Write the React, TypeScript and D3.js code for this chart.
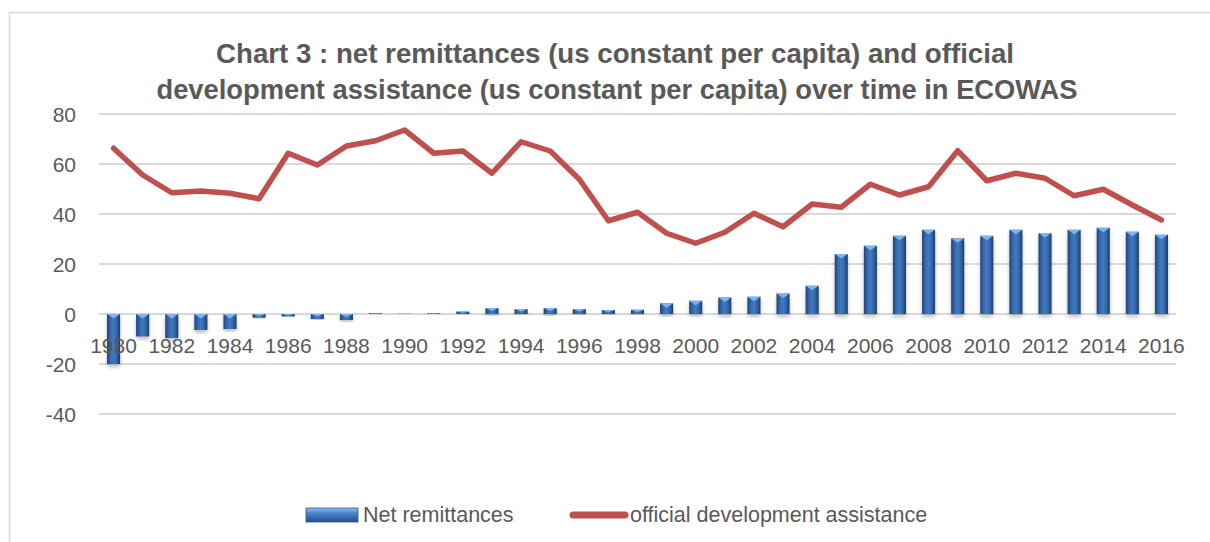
import React, {useEffect, useRef} from "react";
import * as d3 from "d3";

const years: number[] = [1980, 1981, 1982, 1983, 1984, 1985, 1986, 1987, 1988, 1989,
  1990, 1991, 1992, 1993, 1994, 1995, 1996, 1997, 1998, 1999,
  2000, 2001, 2002, 2003, 2004, 2005, 2006, 2007, 2008, 2009,
  2010, 2011, 2012, 2013, 2014, 2015, 2016];

// net remittances, us constant per capita
const remittances: number[] = [-20, -9, -9.6, -6.4, -6, -1.5, -1, -2, -2.4, 0.3,
  0.1, 0.3, 1, 2.4, 2, 2.4, 2, 1.6, 1.7, 4.3,
  5.3, 6.6, 6.9, 8.2, 11.3, 24, 27.3, 31.3, 33.7, 30.3,
  31.3, 33.7, 32.4, 33.7, 34.5, 32.9, 31.7];

// official development assistance, us constant per capita
const oda: number[] = [66.3, 55.6, 48.5, 49.2, 48.3, 46.1, 64.3, 59.6, 67.2, 69.3,
  73.6, 64.3, 65.2, 56.3, 68.9, 65.2, 53.9, 37.3, 40.7, 32.3,
  28.3, 32.7, 40.3, 34.9, 44, 42.7, 51.9, 47.6, 50.9, 65.3,
  53.3, 56.3, 54.3, 47.3, 49.9, 43.6, 37.6];

const yTicks: number[] = [-40, -20, 0, 20, 40, 60, 80];
const xTickLabels: number[] = [1980, 1982, 1984, 1986, 1988, 1990, 1992, 1994, 1996, 1998,
  2000, 2002, 2004, 2006, 2008, 2010, 2012, 2014, 2016];

const titleLines: string[] = [
  "Chart 3 : net remittances (us constant per capita) and official",
  "development assistance (us constant per capita) over time in ECOWAS",
];
const legendBars: string = "Net remittances";
const legendLine: string = "official development assistance";

const ColorLine: string = "#c0504d";
const ColorGrid: string = "#d9d9d9";
const ColorText: string = "#595959";
const FontFamily: string = "'Liberation Sans', Arial, sans-serif";

export default function App(): React.ReactElement {
  const svgRef = useRef<SVGSVGElement>(null);

  const width = 1210;
  const height = 542;
  const plot = {left: 99, right: 1176, top: 114, bottom: 414};

  useEffect(() => {
    if (svgRef.current === null) return;
    const svg = d3.select(svgRef.current);
    svg.selectAll("*").remove();

    const x = d3.scaleBand<number>()
      .domain(years)
      .range([plot.left, plot.right])
      .paddingInner(0.55)
      .paddingOuter(0.275);
    const y = d3.scaleLinear().domain([-40, 80]).range([plot.bottom, plot.top]);
    const cx = (yr: number): number => (x(yr) as number) + x.bandwidth() / 2;

    const defs = svg.append("defs");
    const grad = defs.append("linearGradient")
      .attr("id", "barGrad").attr("x1", "0").attr("x2", "1").attr("y1", "0").attr("y2", "0");
    grad.append("stop").attr("offset", "0%").attr("stop-color", "#1d4277");
    grad.append("stop").attr("offset", "25%").attr("stop-color", "#3469ad");
    grad.append("stop").attr("offset", "50%").attr("stop-color", "#4479c0");
    grad.append("stop").attr("offset", "75%").attr("stop-color", "#3166a9");
    grad.append("stop").attr("offset", "100%").attr("stop-color", "#1a3b6b");
    const gradH = defs.append("linearGradient")
      .attr("id", "legGrad").attr("x1", "0").attr("x2", "0").attr("y1", "0").attr("y2", "1");
    gradH.append("stop").attr("offset", "0%").attr("stop-color", "#8ec0f2");
    gradH.append("stop").attr("offset", "35%").attr("stop-color", "#4f86cc");
    gradH.append("stop").attr("offset", "100%").attr("stop-color", "#23508e");
    const shadow = defs.append("filter").attr("id", "barShadow")
      .attr("x", "-50%").attr("y", "-20%").attr("width", "200%").attr("height", "140%");
    shadow.append("feGaussianBlur").attr("in", "SourceAlpha").attr("stdDeviation", 2);
    shadow.append("feOffset").attr("dx", 0).attr("dy", 3).attr("result", "blur");
    shadow.append("feComponentTransfer").append("feFuncA").attr("type", "linear").attr("slope", 0.25);
    const merge = shadow.append("feMerge");
    merge.append("feMergeNode");
    merge.append("feMergeNode").attr("in", "SourceGraphic");

    // chart frame
    svg.append("rect")
      .attr("x", 9.5).attr("y", 12.5).attr("width", 1300).attr("height", 600)
      .attr("fill", "none").attr("stroke", ColorGrid).attr("stroke-width", 1.5);

    // title
    const title = svg.append("g").attr("font-family", FontFamily).attr("font-weight", "bold")
      .attr("fill", ColorText).attr("font-size", 27).attr("text-anchor", "middle");
    title.append("text").attr("x", 615).attr("y", 63)
      .attr("textLength", 798).attr("lengthAdjust", "spacingAndGlyphs").text(titleLines[0]);
    title.append("text").attr("x", 617).attr("y", 99)
      .attr("textLength", 921).attr("lengthAdjust", "spacingAndGlyphs").text(titleLines[1]);

    // gridlines
    svg.append("g").selectAll("line").data(yTicks).join("line")
      .attr("x1", plot.left).attr("x2", plot.right)
      .attr("y1", (d) => y(d)).attr("y2", (d) => y(d))
      .attr("stroke", ColorGrid).attr("stroke-width", 2);

    // y axis
    const yAxis = svg.append("g").attr("transform", `translate(76,0)`);
    yAxis.call(d3.axisLeft(y).tickValues(yTicks).tickSize(0).tickPadding(0)
      .tickFormat((d) => String(d)));
    yAxis.select(".domain").remove();
    yAxis.selectAll("text")
      .attr("font-family", FontFamily).attr("font-size", 21).attr("fill", ColorText)
      .attr("dy", "0.35em");

    // bars
    const bars = svg.append("g");
    const rows = years.map((yr, i) => ({yr, v: remittances[i]}));
    bars.selectAll(".barIn").data(rows).join("rect")
      .attr("class", "barIn")
      .attr("x", (d) => x(d.yr) as number)
      .attr("y", (d) => Math.min(y(d.v), y(0)))
      .attr("width", x.bandwidth())
      .attr("height", (d) => Math.abs(y(d.v) - y(0)))
      .attr("fill", "url(#barGrad)")
      .attr("filter", "url(#barShadow)");
    // bevel on top face of each bar
    bars.selectAll(".bevel").data(rows.filter((d) => Math.abs(y(d.v) - y(0)) > 2)).join("path")
      .attr("class", "bevel")
      .attr("d", (d) => {
        const x0 = x(d.yr) as number;
        const w = x.bandwidth();
        const top = Math.min(y(d.v), y(0));
        const h = Math.min(4.5, Math.abs(y(d.v) - y(0)) / 2);
        return `M${x0},${top}L${x0 + w},${top}L${x0 + w / 2},${top + h}Z`;
      })
      .attr("fill", "#7db4ee");

    // x axis labels
    const xAxis = svg.append("g").attr("transform", `translate(0,${y(0)})`);
    xAxis.call(d3.axisBottom(x).tickValues(xTickLabels).tickSize(0).tickPadding(0));
    xAxis.select(".domain").remove();
    xAxis.selectAll("text")
      .attr("font-family", FontFamily).attr("font-size", 21).attr("fill", ColorText)
      .attr("y", 39).attr("dy", "0");

    // oda line
    const line = d3.line<number>()
      .x((_d, i) => cx(years[i]))
      .y((d) => y(d));
    svg.append("path")
      .datum(oda)
      .attr("d", line)
      .attr("fill", "none")
      .attr("stroke", ColorLine)
      .attr("stroke-width", 5.5)
      .attr("stroke-linejoin", "round")
      .attr("stroke-linecap", "round");

    // legend
    const legend = svg.append("g").attr("font-family", FontFamily).attr("font-size", 21.5).attr("fill", ColorText);
    legend.append("rect").attr("x", 306).attr("y", 508).attr("width", 52).attr("height", 14)
      .attr("fill", "url(#legGrad)").attr("stroke", "#2a568f").attr("stroke-width", 0.8);
    legend.append("text").attr("x", 363).attr("y", 522).text(legendBars);
    legend.append("line").attr("x1", 573).attr("x2", 625).attr("y1", 515).attr("y2", 515)
      .attr("stroke", ColorLine).attr("stroke-width", 7).attr("stroke-linecap", "round");
    legend.append("text").attr("x", 630).attr("y", 522).text(legendLine);
  }, [plot.left, plot.right, plot.top, plot.bottom]);

  return (
    <div style={{position: "absolute", left: 0, top: 0}}>
      <svg ref={svgRef} width={width} height={height} style={{display: "block", background: "#fff"}}></svg>
    </div>
  );
}
